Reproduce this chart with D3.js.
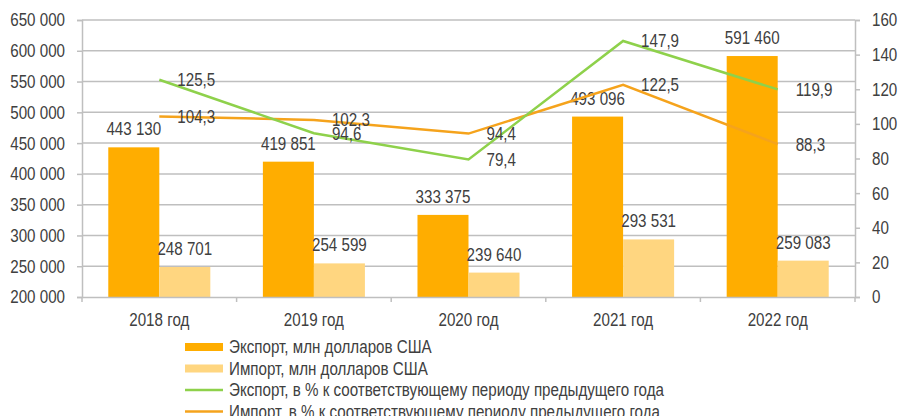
<!DOCTYPE html>
<html><head><meta charset="utf-8">
<script src="https://cdn.jsdelivr.net/npm/d3@7"></script>
<style>
html,body{margin:0;padding:0;background:#fff;overflow:hidden}
text{font-family:'Liberation Sans',Arial,sans-serif;fill:#404040}
</style></head>
<body>
<svg id="chart" width="898" height="416"></svg>
<script>
const categories = ["2018 год","2019 год","2020 год","2021 год","2022 год"];
const exportValues = [443130, 419851, 333375, 493096, 591460];
const importValues = [248701, 254599, 239640, 293531, 259083];
const exportPct = [125.5, 94.6, 79.4, 147.9, 119.9];
const importPct = [104.3, 102.3, 94.4, 122.5, 88.3];
const leftTicks = [200000,250000,300000,350000,400000,450000,500000,550000,600000,650000];
const rightTicks = [0,20,40,60,80,100,120,140,160];
const legendLabels = ["Экспорт, млн долларов США","Импорт, млн долларов США","Экспорт, в % к соответствующему периоду предыдущего года","Импорт, в % к соответствующему периоду предыдущего года"];

const colors = {exp:"#FFAD00", imp:"#FFD680", expLine:"#8ED14B", impLine:"#F5A31C", grid:"#BFBFBF", text:"#404040"};
const fmt = v => d3.format(",")(v).replace(/,/g," ");
const fmtPct = v => d3.format(".1f")(v).replace(".",",");

const svg = d3.select("#chart");
const L = 82, R = 855, T = 20, B = 297;
const x = d3.scaleBand().domain(categories).range([L,R]).paddingInner(0.34).paddingOuter(0.17);
const xc = d3.scaleBand().domain(categories).range([L,R]);
const yL = d3.scaleLinear().domain([200000,650000]).range([B,T]);
const yR = d3.scaleLinear().domain([0,160]).range([B,T]);
const fs = 18.5;
const SX = 0.82;

// gridlines
svg.append("g").selectAll("line").data(leftTicks.slice(1)).join("line")
  .attr("x1",L).attr("x2",R).attr("y1",d=>yL(d)).attr("y2",d=>yL(d))
  .attr("stroke",colors.grid).attr("stroke-width",1.5);

// left axis
const gl = svg.append("g").attr("transform",`translate(${L},0)`)
  .call(d3.axisLeft(yL).tickValues(leftTicks).tickFormat(fmt).tickSize(5).tickPadding(12));
gl.select(".domain").attr("stroke",colors.grid).attr("stroke-width",1.5);
gl.selectAll(".tick line").attr("stroke",colors.grid).attr("stroke-width",1.5);
gl.selectAll(".tick text").attr("font-size",fs).attr("fill",colors.text);

// right axis
const gr = svg.append("g").attr("transform",`translate(${R},0)`)
  .call(d3.axisRight(yR).tickValues(rightTicks).tickSize(5).tickPadding(12));
gr.select(".domain").attr("stroke",colors.grid).attr("stroke-width",1.5);
gr.selectAll(".tick line").attr("stroke",colors.grid).attr("stroke-width",1.5);
gr.selectAll(".tick text").attr("font-size",fs).attr("fill",colors.text);

// bars
const bw = x.bandwidth()/2;
svg.append("g").selectAll("rect").data(categories).join("rect")
  .attr("x",d=>x(d)).attr("width",bw)
  .attr("y",(d,i)=>yL(exportValues[i])).attr("height",(d,i)=>B-yL(exportValues[i]))
  .attr("fill",colors.exp);
svg.append("g").selectAll("rect").data(categories).join("rect")
  .attr("x",d=>x(d)+bw).attr("width",bw)
  .attr("y",(d,i)=>yL(importValues[i])).attr("height",(d,i)=>B-yL(importValues[i]))
  .attr("fill",colors.imp);

// bottom axis
const gb = svg.append("g").attr("transform",`translate(0,${B})`)
  .call(d3.axisBottom(xc).tickSize(0).tickPadding(16));
gb.select(".domain").attr("stroke",colors.grid).attr("stroke-width",1.5);
gb.selectAll(".tick text").attr("font-size",fs).attr("fill",colors.text);
svg.append("g").selectAll("line").data(categories).join("line")
  .attr("x1",d=>xc(d)).attr("x2",d=>xc(d)).attr("y1",B).attr("y2",B+5)
  .attr("stroke",colors.grid).attr("stroke-width",1.5);
svg.append("line").attr("x1",R).attr("x2",R).attr("y1",B).attr("y2",B+5)
  .attr("stroke",colors.grid).attr("stroke-width",1.5);

// bar labels
svg.append("g").selectAll("text").data(categories).join("text")
  .attr("x",d=>x(d)+bw/2).attr("y",(d,i)=>yL(exportValues[i])-12)
  .attr("text-anchor","middle").attr("font-size",fs).text((d,i)=>fmt(exportValues[i]));
svg.append("g").selectAll("text").data(categories).join("text")
  .attr("x",d=>x(d)+bw*1.5).attr("y",(d,i)=>yL(importValues[i])-12)
  .attr("text-anchor","middle").attr("font-size",fs).text((d,i)=>fmt(importValues[i]));

// lines
const cx = d => xc(d)+xc.bandwidth()/2;
const line = arr => d3.line().x(d=>cx(d)).y((d,i)=>yR(arr[i]))(categories);
svg.append("path").attr("d",line(importPct)).attr("fill","none").attr("stroke",colors.impLine).attr("stroke-width",2.5);
svg.append("path").attr("d",line(exportPct)).attr("fill","none").attr("stroke",colors.expLine).attr("stroke-width",2.5);

// line labels
[exportPct, importPct].forEach(arr=>{
  svg.append("g").selectAll("text").data(categories).join("text")
    .attr("x",d=>cx(d)+18).attr("y",(d,i)=>yR(arr[i])).attr("dy","0.35em")
    .attr("font-size",fs).text((d,i)=>fmtPct(arr[i]));
});

// legend
const lg = svg.append("g");
const ly0 = 347, lsp = 21.5;
legendLabels.forEach((lab,i)=>{
  const yy = ly0 + i*lsp;
  if(i<2){
    lg.append("rect").attr("x",185).attr("y",yy-4).attr("width",38).attr("height",8)
      .attr("fill", i===0?colors.exp:colors.imp);
  } else {
    lg.append("line").attr("x1",185).attr("x2",223).attr("y1",yy).attr("y2",yy)
      .attr("stroke", i===2?colors.expLine:colors.impLine).attr("stroke-width",2.5);
  }
  lg.append("text").attr("x",229).attr("y",yy).attr("dy","0.35em").attr("font-size",fs).text(lab);
});

// narrow the text horizontally (condensed look) around each text's own x anchor
svg.selectAll("text").each(function(){
  const t = d3.select(this);
  const tx = +(t.attr("x") || 0);
  t.attr("transform",`translate(${tx},0) scale(${SX},1) translate(${-tx},0)`);
});
</script>
</body></html>
